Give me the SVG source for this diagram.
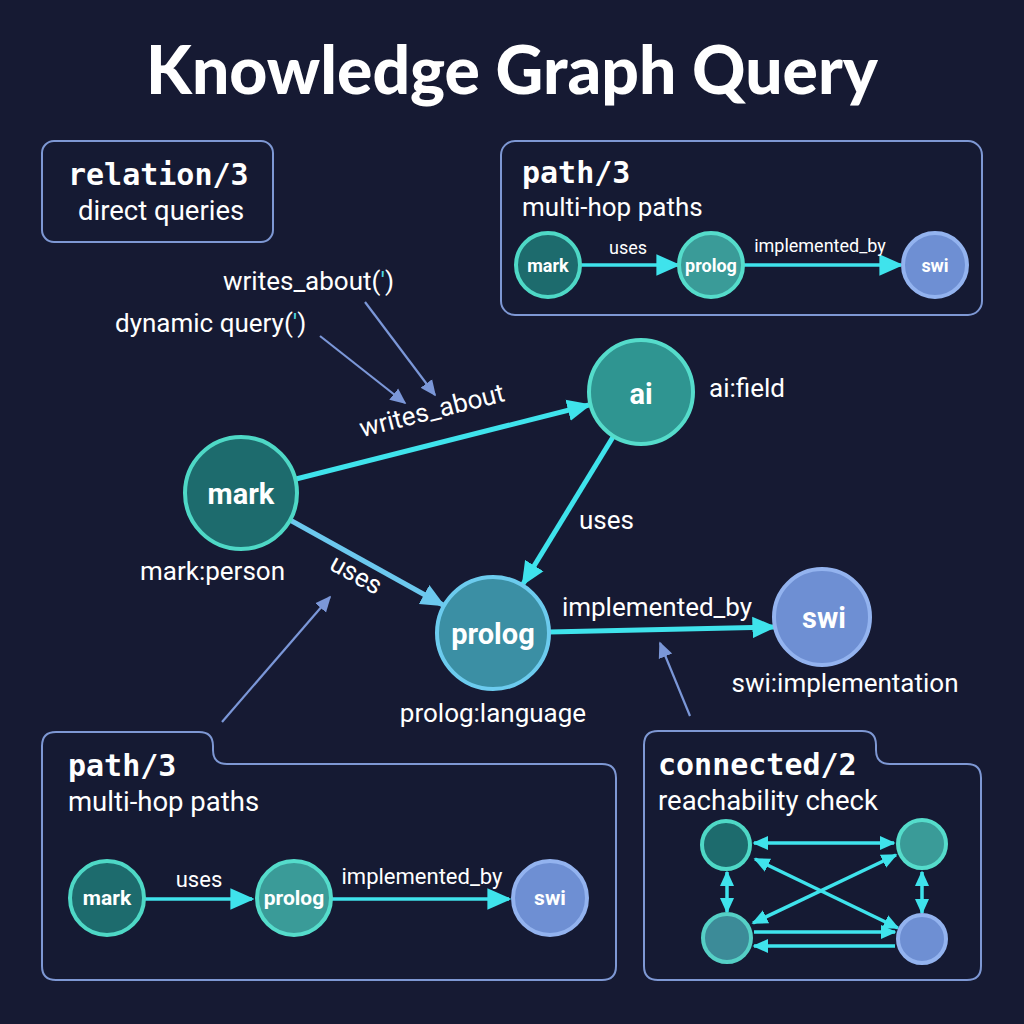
<svg xmlns="http://www.w3.org/2000/svg" width="1024" height="1024" viewBox="0 0 1024 1024">
<defs>
<style>
.title{font-family:Lato,"Open Sans",sans-serif;font-weight:900;font-size:66px;fill:#ffffff}
.mono{font-family:"DejaVu Sans Mono","Liberation Mono",monospace;font-weight:bold;font-size:30px;fill:#ffffff}
.sub{font-family:Roboto,"Liberation Sans",sans-serif;font-size:27.5px;fill:#ffffff}
.lbl{font-family:Roboto,"Liberation Sans",sans-serif;font-size:26px;fill:#ffffff}
.slbl{font-family:Roboto,"Liberation Sans",sans-serif;font-size:18px;fill:#ffffff}
.mlbl{font-family:Roboto,"Liberation Sans",sans-serif;font-size:22px;fill:#ffffff}
.nl{font-family:Roboto,"Liberation Sans",sans-serif;font-weight:bold;fill:#ffffff;text-anchor:middle;dominant-baseline:central}
.box{fill:#151a33;stroke:#7e98d4;stroke-width:2}
.edge{stroke:#3fe3ec;stroke-width:5;fill:none}
.edge2{stroke:#6cc8ee;stroke-width:5;fill:none}
.thin{stroke:#7b97d8;stroke-width:2.2;fill:none}
.sedge{stroke:#3fe3ec;stroke-width:3.5;fill:none}
.n-mark{fill:#1d6b6d;stroke:#4ed8c6;stroke-width:4}
.n-ai{fill:#2f9591;stroke:#55dccb;stroke-width:4}
.n-prolog{fill:#3b8fa4;stroke:#6ccbee;stroke-width:4}
.n-swi{fill:#6e8fd3;stroke:#93b3ef;stroke-width:4}
.n-pprolog{fill:#3a9b98;stroke:#55dccb;stroke-width:4}
</style>
<marker id="ahC" viewBox="0 0 10 10" refX="9" refY="5" markerWidth="24" markerHeight="24" markerUnits="userSpaceOnUse" orient="auto"><path d="M0,0.5 L10,5 L0,9.5 z" fill="#3fe3ec"/></marker>
<marker id="ahB" viewBox="0 0 10 10" refX="9" refY="5" markerWidth="24" markerHeight="24" markerUnits="userSpaceOnUse" orient="auto"><path d="M0,0.5 L10,5 L0,9.5 z" fill="#6cc8ee"/></marker>
<marker id="ahT" viewBox="0 0 10 10" refX="9" refY="5" markerWidth="16" markerHeight="16" markerUnits="userSpaceOnUse" orient="auto"><path d="M0,0.5 L10,5 L0,9.5 z" fill="#7b97d8"/></marker>
<marker id="ahS" viewBox="0 0 10 10" refX="9" refY="5" markerWidth="16" markerHeight="16" markerUnits="userSpaceOnUse" orient="auto-start-reverse"><path d="M0,0.5 L10,5 L0,9.5 z" fill="#3fe3ec"/></marker>
</defs>
<rect width="1024" height="1024" fill="#161a33"/>
<text class="title" x="512" y="94" text-anchor="middle">Knowledge Graph Query</text>

<g id="box-relation">
<rect class="box" x="42" y="141" width="231" height="101" rx="12"/>
<text class="mono" x="68" y="185">relation/3</text>
<text class="sub" x="78" y="220">direct queries</text>
</g>

<g id="box-path-top">
<rect class="box" x="501" y="141" width="481" height="174" rx="14"/>
<text class="mono" x="522" y="183">path/3</text>
<text class="sub" x="522" y="216" style="font-size:26px">multi-hop paths</text>
<line class="sedge" x1="580" y1="265" x2="678" y2="265" marker-end="url(#ahC)"/>
<line class="sedge" x1="744" y1="265" x2="901" y2="265" marker-end="url(#ahC)"/>
<text class="slbl" x="628" y="254" text-anchor="middle">uses</text>
<text class="slbl" x="820" y="252" text-anchor="middle">implemented_by</text>
<circle class="n-mark" cx="548" cy="265" r="32" stroke-width="3"/>
<text class="nl" x="548" y="265" font-size="18">mark</text>
<circle class="n-pprolog" cx="711" cy="265" r="32" stroke-width="3"/>
<text class="nl" x="711" y="265" font-size="18">prolog</text>
<circle class="n-swi" cx="935" cy="265" r="32" stroke-width="3"/>
<text class="nl" x="935" y="265" font-size="18">swi</text>
</g>

<g id="connectors">
<line class="edge" x1="296" y1="479" x2="589" y2="405" marker-end="url(#ahC)"/>
<line class="edge2" x1="290" y1="520" x2="443" y2="605" marker-end="url(#ahB)"/>
<line class="edge" x1="613" y1="437" x2="523" y2="584" marker-end="url(#ahC)"/>
<line class="edge" x1="549" y1="632" x2="774" y2="627" marker-end="url(#ahC)"/>
<text class="lbl" transform="translate(434,419) rotate(-14.2)" text-anchor="middle">writes_about</text>
<text class="lbl" transform="translate(352,582) rotate(29)" text-anchor="middle">uses</text>
<text class="lbl" x="579" y="529">uses</text>
<text class="lbl" x="657" y="616" text-anchor="middle">implemented_by</text>
<line class="thin" x1="365" y1="302" x2="435" y2="395" marker-end="url(#ahT)"/>
<line class="thin" x1="320" y1="336" x2="405" y2="403" marker-end="url(#ahT)"/>
<line class="thin" x1="222" y1="722" x2="330" y2="597" marker-end="url(#ahT)"/>
<line class="thin" x1="690" y1="716" x2="660" y2="643" marker-end="url(#ahT)"/>
</g>

<g id="query-labels">
<text class="lbl" x="223" y="290">writes_about(<tspan fill="#4fd8e0">'</tspan>)</text>
<text class="lbl" x="115" y="332">dynamic query(<tspan fill="#4fd8e0">'</tspan>)</text>
</g>

<g id="node-mark">
<circle class="n-mark" cx="241" cy="493" r="56"/>
<text class="nl" x="241" y="494" font-size="29">mark</text>
<text class="lbl" x="140" y="580">mark:person</text>
</g>
<g id="node-ai">
<circle class="n-ai" cx="641" cy="392" r="52"/>
<text class="nl" x="641" y="394" font-size="29">ai</text>
<text class="lbl" x="709" y="397">ai:field</text>
</g>
<g id="node-prolog">
<circle class="n-prolog" cx="493" cy="633" r="56"/>
<text class="nl" x="493" y="634" font-size="29">prolog</text>
<text class="lbl" x="493" y="722" text-anchor="middle">prolog:language</text>
</g>
<g id="node-swi">
<circle class="n-swi" cx="822" cy="617" r="48"/>
<text class="nl" x="824" y="618" font-size="29">swi</text>
<text class="lbl" x="845" y="692" text-anchor="middle">swi:implementation</text>
</g>

<g id="box-path-bottom">
<path class="box" d="M56,732 H199 Q213,732 213,746 V750 Q213,764 227,764 H602 Q616,764 616,778 V966 Q616,980 602,980 H56 Q42,980 42,966 V746 Q42,732 56,732 Z"/>
<text class="mono" x="68" y="776">path/3</text>
<text class="sub" x="68" y="811">multi-hop paths</text>
<line class="sedge" x1="145" y1="899" x2="252" y2="899" marker-end="url(#ahC)"/>
<line class="sedge" x1="331" y1="899" x2="509" y2="899" marker-end="url(#ahC)"/>
<text class="mlbl" x="199" y="887" text-anchor="middle">uses</text>
<text class="mlbl" x="422" y="884" text-anchor="middle">implemented_by</text>
<circle class="n-mark" cx="107" cy="898" r="37" stroke-width="3.5"/>
<text class="nl" x="107" y="898" font-size="21">mark</text>
<circle class="n-pprolog" cx="294" cy="898" r="37" stroke-width="3.5"/>
<text class="nl" x="294" y="898" font-size="21">prolog</text>
<circle class="n-swi" cx="550" cy="898" r="37" stroke-width="3.5"/>
<text class="nl" x="550" y="898" font-size="21">swi</text>
</g>

<g id="box-connected">
<path class="box" d="M658,731 H862 Q876,731 876,745 V750 Q876,764 890,764 H967 Q981,764 981,778 V966 Q981,980 967,980 H658 Q644,980 644,966 V745 Q644,731 658,731 Z"/>
<text class="mono" x="658" y="775">connected/2</text>
<text class="sub" x="658" y="810">reachability check</text>
<line class="sedge" x1="754" y1="843" x2="894" y2="843" marker-start="url(#ahS)" marker-end="url(#ahS)"/>
<line class="sedge" x1="755" y1="859" x2="898" y2="928" marker-start="url(#ahS)" marker-end="url(#ahS)"/>
<line class="sedge" x1="753" y1="923" x2="896" y2="855" marker-start="url(#ahS)" marker-end="url(#ahS)"/>
<line class="sedge" x1="727" y1="872" x2="727" y2="912" marker-start="url(#ahS)" marker-end="url(#ahS)"/>
<line class="sedge" x1="922" y1="872" x2="922" y2="913" marker-start="url(#ahS)" marker-end="url(#ahS)"/>
<line class="sedge" x1="754" y1="932" x2="895" y2="932" marker-end="url(#ahS)"/>
<line class="sedge" x1="895" y1="946" x2="754" y2="946" marker-end="url(#ahS)"/>
<circle class="n-mark" cx="726" cy="845" r="24" stroke-width="2.5"/>
<circle class="n-pprolog" cx="922" cy="844" r="24" stroke-width="2.5"/>
<circle class="n-prolog" cx="727" cy="938" r="24" stroke-width="2.5" style="fill:#3c8b98;stroke:#55d0c6"/>
<circle class="n-swi" cx="922" cy="939" r="24" stroke-width="2.5"/>
</g>
</svg>
